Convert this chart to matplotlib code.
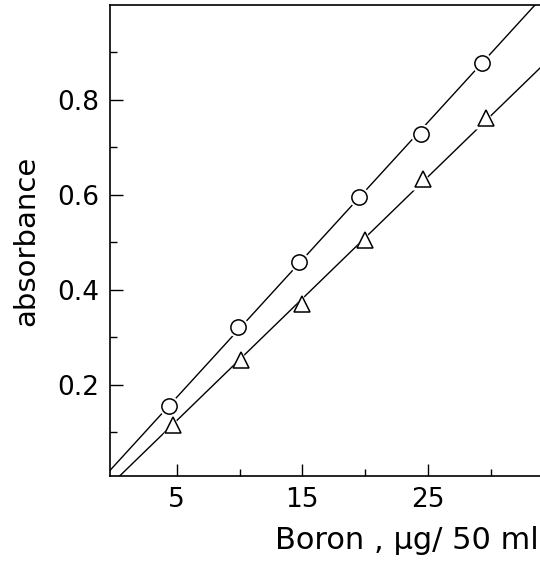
import matplotlib
matplotlib.use("Agg")
import matplotlib.pyplot as plt
import numpy as np

# circles (upper series)
circ_x = [4.4, 9.9, 14.7, 19.5, 24.4, 29.3]
circ_y = [0.156, 0.322, 0.459, 0.596, 0.728, 0.878]
# triangles (lower series)
tri_x = [4.7, 10.1, 15.0, 20.0, 24.6, 29.6]
tri_y = [0.116, 0.253, 0.371, 0.505, 0.634, 0.762]
# calibration lines as drawn (end points)
circ_line_x = [-1.0, 35.0]
circ_line_y = [-0.0005, 1.0435]
tri_line_x = [-1.0, 35.0]
tri_line_y = [-0.0297, 0.8955]

x_major = [5, 15, 25]
x_minor = [10, 20, 30]
y_major = [0.2, 0.4, 0.6, 0.8]
y_minor = [0.1, 0.3, 0.5, 0.7, 0.9]

plt.rcParams['font.family'] = ['DejaVu Sans']

fig = plt.figure(figsize=(5.4, 5.63), dpi=100)
ax = fig.add_axes([110/540, 87/563, 430/540, 471/563])

ax.plot(circ_line_x, circ_line_y, color="black", lw=1.0, zorder=1)
ax.plot(tri_line_x, tri_line_y, color="black", lw=1.0, zorder=1)

# white halo so the line breaks just before each marker
ax.plot(circ_x, circ_y, "o", ms=15, mfc="white", mec="none", zorder=2)
ax.plot(tri_x, tri_y, "^", ms=16, mfc="white", mec="none", zorder=2)
ax.plot(circ_x, circ_y, "o", ms=11, mfc="white", mec="black", mew=1.1, zorder=3)
ax.plot(tri_x, tri_y, "^", ms=12, mfc="white", mec="black", mew=1.1, zorder=3)

ax.set_xlim(-0.3, 33.9)
ax.set_ylim(0.008, 1.0)

ax.spines["right"].set_visible(False)
for s in ["left", "bottom", "top"]:
    ax.spines[s].set_linewidth(1.2)

ax.set_xticks(x_major)
ax.set_xticklabels([str(v) for v in x_major])
ax.set_xticks(x_minor, minor=True)
ax.set_yticks(y_major)
ax.set_yticklabels([f"{v:.1f}" for v in y_major])
ax.set_yticks(y_minor, minor=True)

ax.tick_params(which="major", direction="in", length=9, width=1.0,
               labelsize=19, pad=8)
ax.tick_params(which="minor", direction="in", length=5, width=1.0)
ax.tick_params(top=False, right=False, which="both")

fig.text(26/540, 1 - 241/563, "absorbance", rotation=90, fontsize=21,
         ha="center", va="center")
fig.text(275/540, 14/563, "Boron , \u00b5g/ 50 ml", fontsize=22,
         ha="left", va="baseline")

fig.savefig("out.png", dpi=100)
